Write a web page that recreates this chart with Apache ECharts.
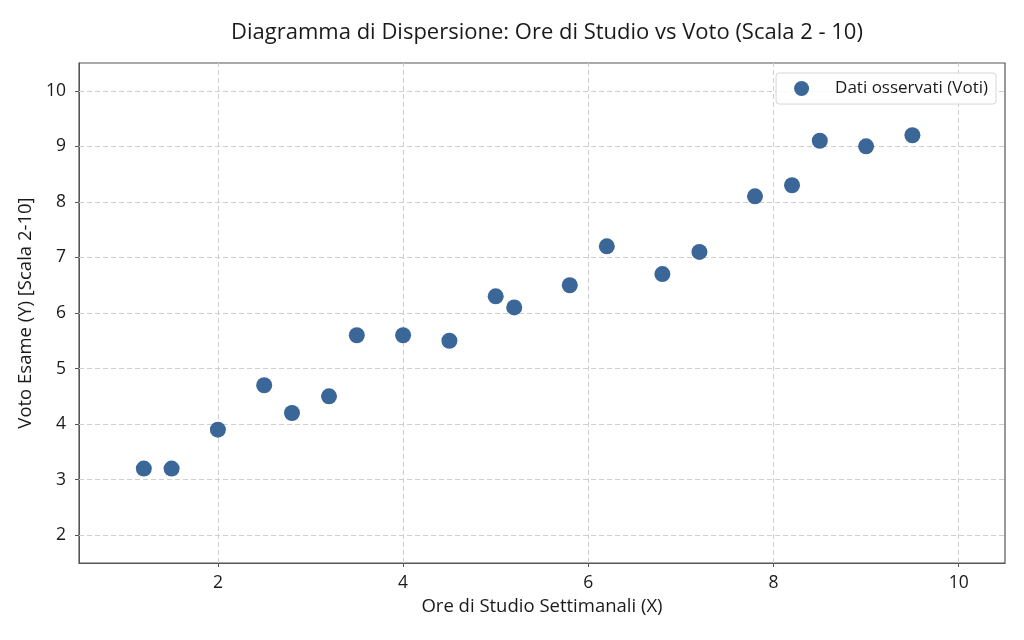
<!DOCTYPE html>
<html>
<head>
<meta charset="utf-8">
<script src="https://cdn.jsdelivr.net/npm/echarts@6/dist/echarts.min.js"></script>
<style>
  html, body { margin: 0; padding: 0; background: #fff; }
  #chart { width: 1024px; height: 640px; }
</style>
</head>
<body>
<div id="chart"></div>
<script>
// ore di studio (X) e voto (Y)
var oreStudio = [1.2, 1.5, 2.0, 2.5, 2.8, 3.2, 3.5, 4.0, 4.5, 5.0, 5.2, 5.8, 6.2, 6.8, 7.2, 7.8, 8.2, 8.5, 9.0, 9.5];
var voti = [3.2, 3.2, 3.9, 4.7, 4.2, 4.5, 5.6, 5.6, 5.5, 6.3, 6.1, 6.5, 7.2, 6.7, 7.1, 8.1, 8.3, 9.1, 9.0, 9.2];
var tickX = [2, 4, 6, 8, 10];
var tickY = [2, 3, 4, 5, 6, 7, 8, 9, 10];
var nomeSerie = 'Dati osservati (Voti)';

var punti = oreStudio.map(function (x, i) { return [x, voti[i]]; });

var font = '"Open Sans", Roboto, sans-serif';
var grigio = { color: '#cfcfcf', type: [5, 3], width: 1 };

var mychart = echarts.init(document.getElementById('chart'));
var option = {
    backgroundColor: '#ffffff',
    animation: false,
    textStyle: { fontFamily: font },
    title: {
        text: 'Diagramma di Dispersione: Ore di Studio vs Voto (Scala 2 - 10)',
        left: 542,
        textAlign: 'center',
        top: 17,
        textStyle: { fontSize: 22, fontWeight: 'normal', color: '#1a1a1a', fontFamily: font }
    },
    legend: {
        data: [nomeSerie],
        right: 28,
        top: 73,
        orient: 'vertical',
        itemWidth: 15,
        itemHeight: 15,
        padding: [7, 8, 7, 18],
        backgroundColor: 'rgba(255,255,255,0.85)',
        borderColor: '#d6d6d6',
        borderWidth: 1,
        borderRadius: 3,
        itemStyle: { opacity: 1 },
        textStyle: { fontSize: 17, color: '#1a1a1a', lineHeight: 17, padding: [0, 0, 0, 21] }
    },
    grid: { left: 79, right: 19, top: 63, bottom: 77, show: true, borderColor: '#555', borderWidth: 1.2 },
    xAxis: {
        type: 'value',
        min: 0.5,
        max: 10.5,
        name: 'Ore di Studio Settimanali (X)',
        nameLocation: 'middle',
        nameGap: 34,
        nameTextStyle: { fontSize: 18.5, color: '#1a1a1a' },
        axisLine: { show: true, onZero: false, lineStyle: { color: '#555' } },
        axisTick: { show: true, length: 4, lineStyle: { color: '#555' }, customValues: tickX },
        axisLabel: { fontSize: 17.5, color: '#1a1a1a', margin: 11, customValues: tickX },
        splitLine: { show: false }
    },
    yAxis: {
        type: 'value',
        min: 1.5,
        max: 10.5,
        name: 'Voto Esame (Y) [Scala 2-10]',
        nameLocation: 'middle',
        nameGap: 40,
        nameTextStyle: { fontSize: 18.5, color: '#1a1a1a' },
        axisLine: { show: true, onZero: false, lineStyle: { color: '#555' } },
        axisTick: { show: true, length: 4, lineStyle: { color: '#555' }, customValues: tickY },
        axisLabel: { fontSize: 17.5, color: '#1a1a1a', margin: 13, customValues: tickY },
        splitLine: { show: false }
    },
    series: [
        {
            // solo griglia tratteggiata, sotto i punti
            type: 'scatter',
            data: [],
            silent: true,
            z: 1,
            markLine: {
                silent: true,
                z: 1,
                symbol: 'none',
                animation: false,
                label: { show: false },
                lineStyle: grigio,
                data: tickX.map(function (v) { return { xAxis: v }; })
                    .concat(tickY.map(function (v) { return { yAxis: v }; }))
            }
        },
        {
            name: nomeSerie,
            type: 'scatter',
            data: punti,
            symbolSize: 16,
            itemStyle: { color: '#3a6698', opacity: 1 },
            z: 3
        }
    ]
};
mychart.setOption(option);
</script>
</body>
</html>
